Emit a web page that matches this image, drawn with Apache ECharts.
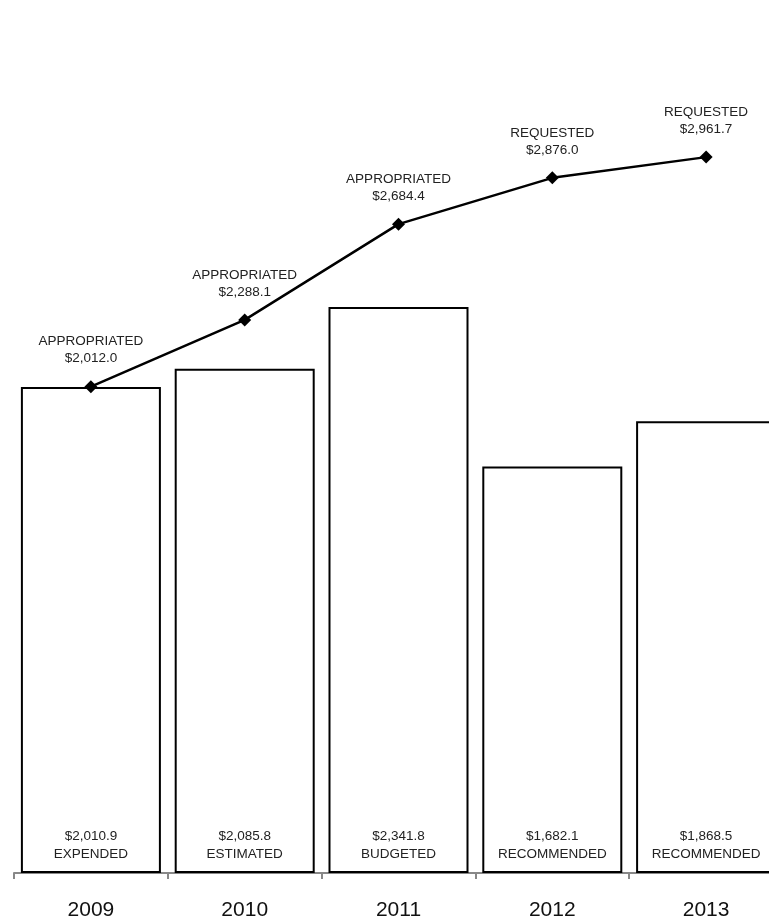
<!DOCTYPE html>
<html><head><meta charset="utf-8">
<script src="https://cdn.jsdelivr.net/npm/echarts@6/dist/echarts.min.js"></script>
<style>html,body{margin:0;padding:0;background:#fff;overflow:hidden;width:769px;height:923px}#c{width:783px;height:923px}</style>
</head><body><div id="c"></div>
<script>
const categories = ['2009', '2010', '2011', '2012', '2013'];
const barValues = [2010.9, 2085.8, 2341.8, 1682.1, 1868.5];
const barTags = ['EXPENDED', 'ESTIMATED', 'BUDGETED', 'RECOMMENDED', 'RECOMMENDED'];
const lineValues = [2012.0, 2288.1, 2684.4, 2876.0, 2961.7];
const lineTags = ['APPROPRIATED', 'APPROPRIATED', 'APPROPRIATED', 'REQUESTED', 'REQUESTED'];

function money(v) {
  return '$' + v.toLocaleString('en-US', {minimumFractionDigits: 1, maximumFractionDigits: 1});
}
const font = '"Liberation Sans", Arial, sans-serif';
const chart = echarts.init(document.getElementById('c'));
chart.setOption({
  animation: false,
  grid: {left: 14, top: 27, right: 0, bottom: 50, containLabel: false},
  xAxis: {
    type: 'category', data: categories,
    axisLine: {lineStyle: {color: '#888', width: 2}},
    axisTick: {show: true, length: 6, lineStyle: {color: '#888', width: 2}},
    axisLabel: {fontSize: 21, color: '#111', margin: 27, fontFamily: font}
  },
  yAxis: {type: 'value', min: 0, max: 3500, show: false, splitLine: {show: false}},
  series: [
    {
      type: 'bar', data: barValues, barWidth: 140, z: 1,
      itemStyle: {color: '#fff', borderColor: '#000', borderWidth: 2},
      label: {
        show: true, position: 'insideBottom', distance: 10,
        fontSize: 13.5, lineHeight: 18, color: '#222', fontFamily: font,
        formatter: p => money(p.value) + '\n' + barTags[p.dataIndex]
      }
    },
    {
      type: 'line', data: lineValues, z: 5,
      symbol: 'diamond', symbolSize: 13,
      lineStyle: {color: '#000', width: 2.5},
      itemStyle: {color: '#000'},
      label: {
        show: true, position: 'top', distance: 13,
        fontSize: 13.5, lineHeight: 17, color: '#222', fontFamily: font,
        formatter: p => lineTags[p.dataIndex] + '\n' + money(p.value)
      }
    }
  ]
});
</script></body></html>
